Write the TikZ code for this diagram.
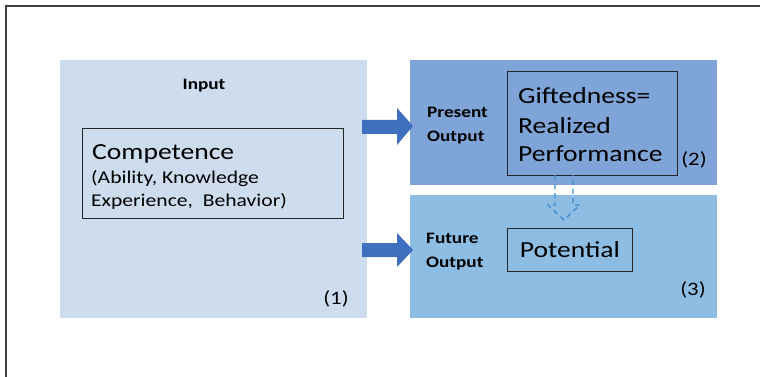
\documentclass[tikz,border=0pt]{standalone}
\usepackage{fontspec}
\setmainfont{Carlito}
\newcommand{\wideText}[1]{\scalebox{1.2}[1]{#1}}
\begin{document}
\begin{tikzpicture}[x=1pt,y=-1pt,
  panel/.style={draw=none,inner sep=0pt,anchor=north west},
  inbox/.style={draw=black!85,line width=0.9pt,inner sep=0pt,anchor=north west},
  lab/.style={font=\bfseries\fontsize{16}{18}\selectfont,inner sep=0pt,anchor=base west},
  big/.style={font=\fontsize{23}{26}\selectfont,inner sep=0pt,anchor=base west},
  small/.style={font=\fontsize{18}{20}\selectfont,inner sep=0pt,anchor=base west},
  num/.style={font=\fontsize{19}{22}\selectfont,inner sep=0pt},
  blockarrow/.style={fill=arrowblue,draw=none},
  hollow/.style={draw=dashblue,dash pattern=on 5pt off 4pt,line width=1.4pt}]
\definecolor{inputbg}{HTML}{CEDDEE}
\definecolor{presentbg}{HTML}{7FA4D8}
\definecolor{futurebg}{HTML}{8EBDE4}
\definecolor{arrowblue}{HTML}{3F6FBF}
\definecolor{dashblue}{HTML}{3A8CD0}
\useasboundingbox (0,0) rectangle (760,377);
\fill[white] (0,0) rectangle (760,377);
% frame
\draw[line width=2pt,black!75] (6,377) -- (6,6) -- (760,6);
% panels
\node[panel,fill=inputbg,minimum width=307pt,minimum height=258pt] (input) at (60,60) {};
\node[panel,fill=presentbg,minimum width=307pt,minimum height=125pt] (present) at (410,60) {};
\node[panel,fill=futurebg,minimum width=307pt,minimum height=123pt] (future) at (410,195) {};
% inner boxes
\node[inbox,minimum width=261pt,minimum height=90pt] (comp) at (82,128) {};
\node[inbox,minimum width=170pt,minimum height=104pt] (gift) at (507,71) {};
\node[inbox,minimum width=125pt,minimum height=43pt] (pot) at (507,228) {};
% texts
\node[lab,anchor=base] (inputlab) at (204,90) {\wideText{Input}};
\node[big] (comptxt) at (92,159) {\wideText{Competence}};
\node[small] (comp2) at (91,183) {\wideText{(Ability, Knowledge}};
\node[small] (comp3) at (91,206) {\wideText{Experience,~ Behavior)}};
\node[lab] (preslab1) at (427,118) {\wideText{Present}};
\node[lab] (preslab2) at (427,142) {\wideText{Output}};
\node[lab] (futlab1) at (426,243) {\wideText{Future}};
\node[lab] (futlab2) at (426,267) {\wideText{Output}};
\node[big] (g1) at (518,104) {\wideText{Giftedness=}};
\node[big] (g2) at (518,133) {\wideText{Realized}};
\node[big] (g3) at (518,161) {\wideText{Performance}};
\node[big,anchor=center] (pottxt) at (pot.center) {\wideText{Potential}};
\node[num] (n1) at (336,299) {\wideText{(1)}};
\node[num] (n2) at (694,160) {\wideText{(2)}};
\node[num] (n3) at (693,290) {\wideText{(3)}};
% block arrows
\fill[blockarrow] (362,120) -- (397,120) -- (397,108) -- (413,126) -- (397,145) -- (397,134) -- (362,134) -- cycle;
\fill[blockarrow] (362,243) -- (397,243) -- (397,233) -- (413,250) -- (397,267) -- (397,257) -- (362,257) -- cycle;
% dashed hollow arrow
\draw[hollow] (555,175) -- (555,205) -- (548,205) -- (564,220) -- (580,205) -- (573,205) -- (573,175);
\end{tikzpicture}
\end{document}
